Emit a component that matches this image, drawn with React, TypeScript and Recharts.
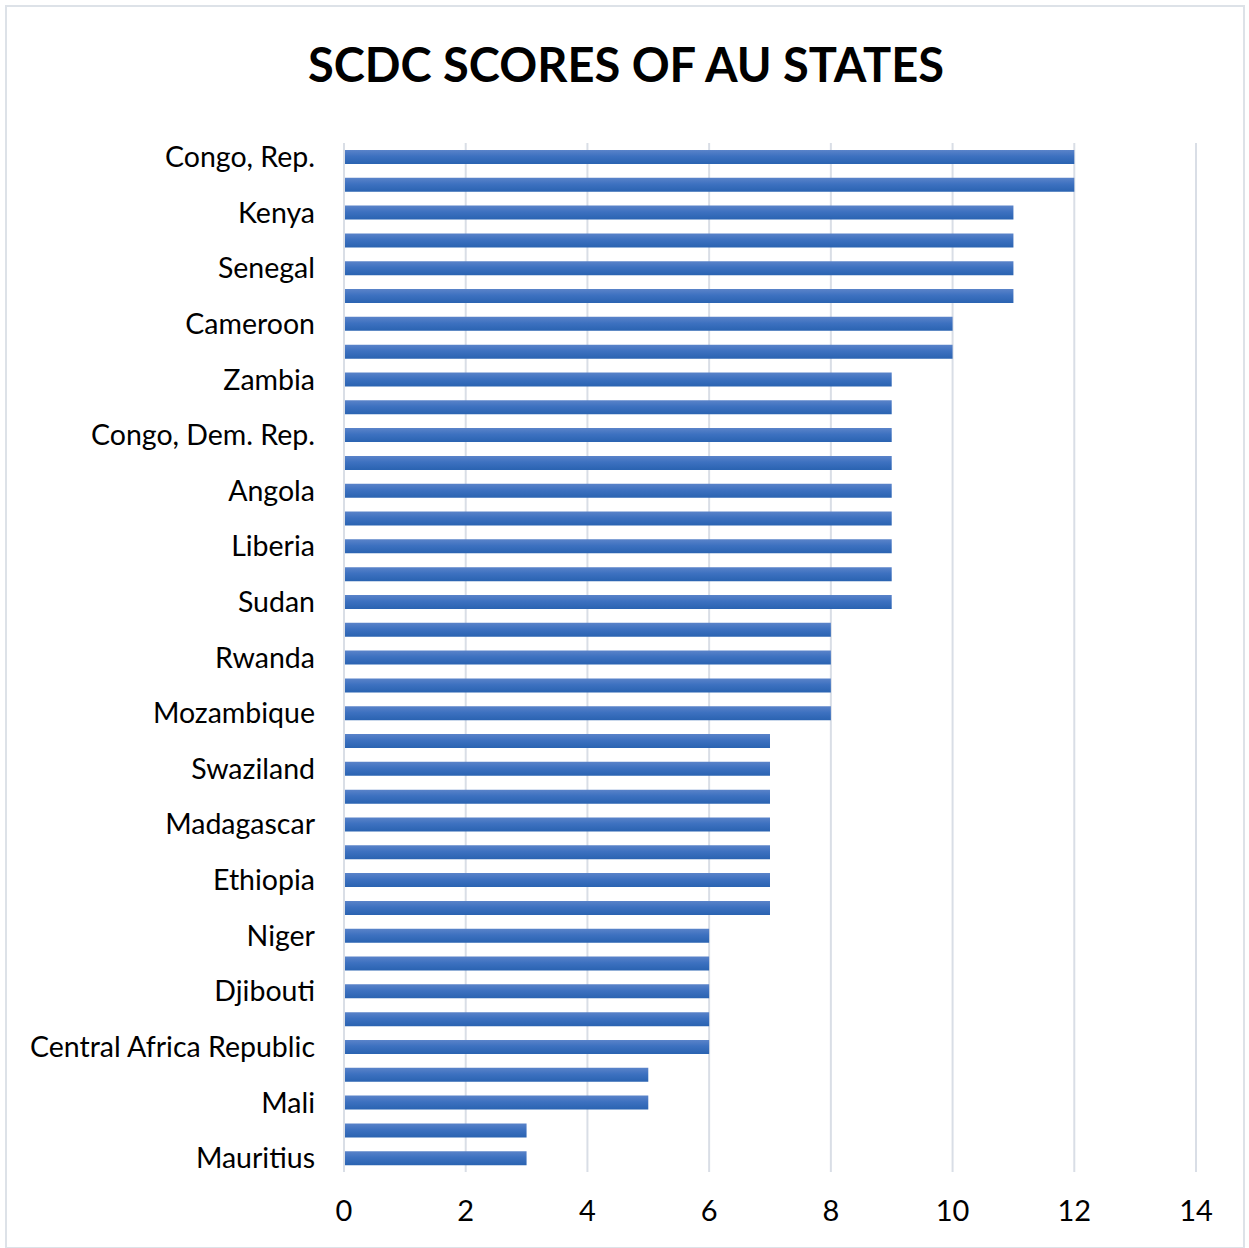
import React from "react";
import { BarChart, Bar, XAxis, YAxis, CartesianGrid, ReferenceLine } from "recharts";

// Category labels (Excel shows every other label; hidden ones are blank)
const labels: string[] = [
  "Congo, Rep.", "", "Kenya", "", "Senegal", "", "Cameroon", "", "Zambia", "",
  "Congo, Dem. Rep.", "", "Angola", "", "Liberia", "", "Sudan", "", "Rwanda", "",
  "Mozambique", "", "Swaziland", "", "Madagascar", "", "Ethiopia", "", "Niger", "",
  "Djibouti", "", "Central Africa Republic", "", "Mali", "", "Mauritius",
];

const scores: number[] = [
  12, 12, 11, 11, 11, 11, 10, 10, 9, 9,
  9, 9, 9, 9, 9, 9, 9, 8, 8, 8,
  8, 7, 7, 7, 7, 7, 7, 7, 6, 6,
  6, 6, 6, 5, 5, 3, 3,
];

const xTicks: number[] = [0, 2, 4, 6, 8, 10, 12, 14];

const data = labels.map((label, i) => ({ key: `c${i}`, label, score: scores[i] }));

const FONT = "Lato, 'Open Sans', sans-serif";
const GRID = "#d9dee6";

export default function App() {
  return (
    <div style={{ position: "absolute", left: 0, top: 0, width: 1249, height: 1248, background: "#fff", fontFamily: FONT }}>
      <div
        style={{
          position: "absolute", left: 5, top: 5, width: 1236, height: 1240,
          border: "2px solid #dde2e8", boxSizing: "content-box",
        }}
      />
      <div
        style={{
          position: "absolute", left: 0, top: 38, width: 1252, textAlign: "center",
          fontSize: 47, fontWeight: 700, color: "#000", fontFamily: FONT, lineHeight: "52px",
        }}
      >
        SCDC SCORES OF AU STATES
      </div>
      <div style={{ position: "absolute", left: 0, top: 0 }}>
        <BarChart
          width={1249}
          height={1248}
          data={data}
          layout="vertical"
          margin={{ top: 143, right: 53, bottom: 0, left: 0 }}
          barSize={14}
        >
          <defs>
            <linearGradient id="barGrad" x1="0" y1="0" x2="0" y2="1">
              <stop offset="0%" stopColor="#5a83c9" />
              <stop offset="45%" stopColor="#3d71c0" />
              <stop offset="100%" stopColor="#2a63b1" />
            </linearGradient>
          </defs>
          <CartesianGrid horizontal={false} vertical={true} stroke={GRID} strokeWidth={2} />
          <XAxis
            type="number"
            domain={[0, 14]}
            ticks={xTicks}
            interval={0}
            height={76}
            axisLine={false}
            tickLine={false}
            tickSize={0}
            tickMargin={28}
            tick={{ fill: "#000", fontSize: 29, fontFamily: FONT }}
          />
          <YAxis
            type="category"
            dataKey="key"
            width={344}
            interval={0}
            axisLine={false}
            tickLine={false}
            tickSize={0}
            tickMargin={29}
            tickFormatter={(_v: string, i: number) => labels[i]}
            tick={{ fill: "#000", fontSize: 28.5, fontFamily: FONT }}
          />
          <Bar dataKey="score" fill="url(#barGrad)" isAnimationActive={false} />
          <ReferenceLine x={0} stroke={GRID} strokeWidth={2} />
        </BarChart>
      </div>
    </div>
  );
}
